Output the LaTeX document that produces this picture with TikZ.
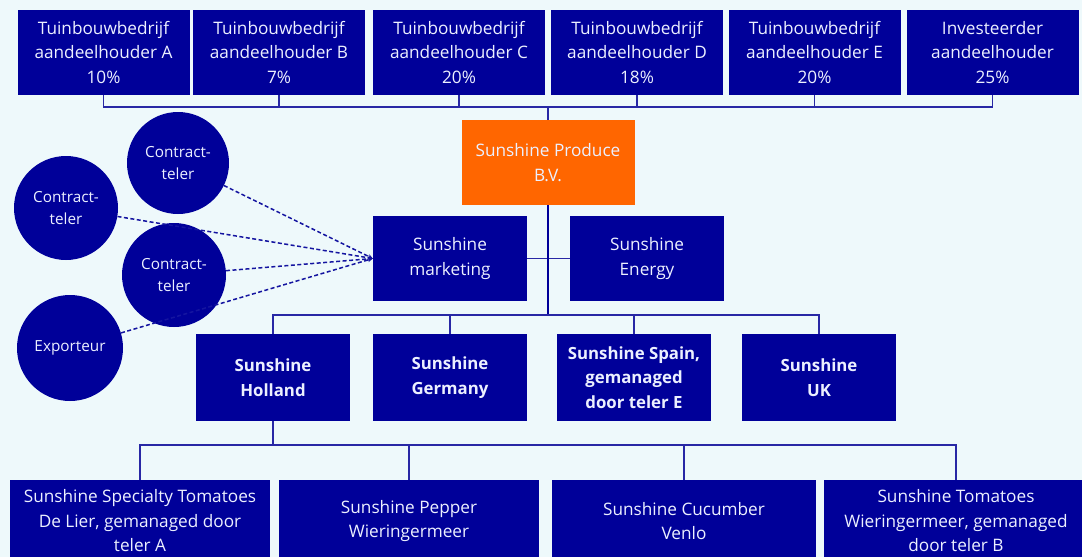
\documentclass[tikz,border=0pt]{standalone}
\usepackage{fontspec}
\setmainfont{Open Sans}
\usetikzlibrary{arrows.meta}
\definecolor{bg}{RGB}{238,249,251}
\definecolor{navy}{RGB}{0,0,153}
\definecolor{orng}{RGB}{255,102,0}
\definecolor{txt}{RGB}{236,240,255}
\definecolor{lnc}{RGB}{40,40,165}
\definecolor{dln}{RGB}{20,20,160}
\begin{document}
\begin{tikzpicture}[x=1pt,y=-1pt,
  box/.style={fill=navy, text=txt, align=center, inner sep=0pt, font=\fontsize{17.2}{24.5}\selectfont},
  topbox/.style={box, minimum width=172pt, minimum height=85pt},
  midbox/.style={box, minimum width=154pt, minimum height=85pt},
  rowbox/.style={box, minimum width=154pt, minimum height=87pt, font=\bfseries\fontsize{16.8}{24.5}\selectfont},
  botbox/.style={box, minimum height=82pt},
  circ/.style={circle, fill=navy, text=txt, align=center, inner sep=0pt, minimum size=104pt, font=\fontsize{15.3}{21.5}\selectfont},
  conn/.style={draw=lnc, line width=1.2pt},
  mainline/.style={draw=navy, line width=2pt},
  dotline/.style={draw=dln, line width=1.5pt, dash pattern=on 4pt off 2.5pt, -{Stealth[length=5pt,width=4.5pt]}}
]
\fill[bg] (0,0) rectangle (1082,557);
\useasboundingbox (0,0) rectangle (1082,557);

% top row
\node[topbox] (tA) at (103.5,52.5) {Tuinbouwbedrijf\\aandeelhouder A\\10\%};
\node[topbox] (tB) at (279,52.5) {Tuinbouwbedrijf\\aandeelhouder B\\7\%};
\node[topbox] (tC) at (459,52.5) {Tuinbouwbedrijf\\aandeelhouder C\\20\%};
\node[topbox] (tD) at (637,52.5) {Tuinbouwbedrijf\\aandeelhouder D\\18\%};
\node[topbox] (tE) at (814.5,52.5) {Tuinbouwbedrijf\\aandeelhouder E\\20\%};
\node[topbox] (tF) at (992.5,52.5) {Investeerder\\aandeelhouder\\25\%};

% holding
\node[box, fill=orng, minimum width=173pt, minimum height=85pt] (prod) at (548,162.5) {Sunshine Produce\\B.V.};

% marketing / energy
\node[midbox] (mkt) at (450,258.5) {Sunshine\\marketing};
\node[midbox] (nrg) at (647,258.5) {Sunshine\\Energy};

% second row
\node[rowbox] (hol) at (273,377.5) {Sunshine\\Holland};
\node[rowbox] (ger) at (450,377.5) {Sunshine\\Germany};
\node[rowbox] (spa) at (634,377.5) {Sunshine Spain,\\gemanaged\\door teler E};
\node[rowbox] (uk) at (819,377.5) {Sunshine\\UK};

% bottom row
\node[botbox, minimum width=260pt] (b1) at (140,521) {Sunshine Specialty Tomatoes\\De Lier, gemanaged door\\teler A};
\node[botbox, minimum width=260pt] (b2) at (409,521) {Sunshine Pepper\\Wieringermeer};
\node[botbox, minimum width=264pt] (b3) at (684,521) {Sunshine Cucumber\\Venlo};
\node[botbox, minimum width=264pt] (b4) at (956,521) {Sunshine Tomatoes\\Wieringermeer, gemanaged\\door teler B};

% circles
\node[circ, minimum size=102pt] (c1) at (178,163) {Contract-\\teler};
\node[circ] (c2) at (66,208) {Contract-\\teler};
\node[circ] (c3) at (174,275) {Contract-\\teler};
\node[circ, minimum size=106pt] (c4) at (70,348) {Exporteur};

% connectors
\coordinate (j1) at (548,107);
\coordinate (j2) at (548,315);
\coordinate (j3) at (273,445);
\foreach \n in {tA,tB,tC,tD,tE,tF} \draw[conn] (\n.south) |- (j1);
\draw[conn] (j1) -- (prod.north);
\draw[conn] (mkt.east) -- (nrg.west);
\draw[mainline] (prod.south) -- (j2);
\foreach \n in {hol,ger,spa,uk} \draw[conn] (j2) -| (\n.north);
\draw[conn] (hol.south) -- (j3);
\foreach \n in {b1,b2,b3,b4} \draw[conn] (j3) -| (\n.north);
\foreach \n in {c1,c2,c3,c4} \draw[dotline] (\n) -- (mkt.west);
\end{tikzpicture}
\end{document}
